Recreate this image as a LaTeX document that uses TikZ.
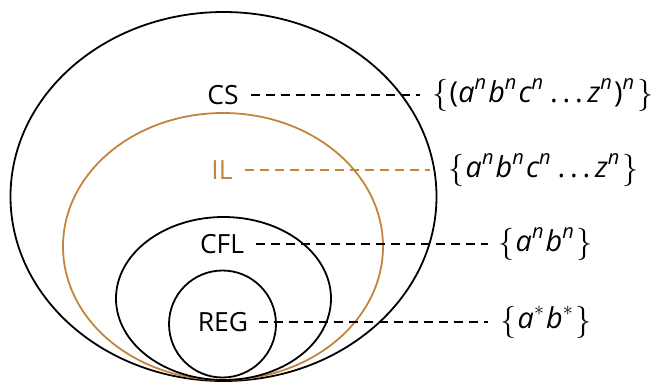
\documentclass[tikz,border=0pt]{standalone}
\usepackage{graphicx}
\usepackage{fontspec}
\setmainfont{Open Sans}
\newcommand\iv[1]{{\itshape #1}}
\newcommand\pw[1]{\raisebox{6.6pt}{\fontsize{10}{11}\selectfont\itshape #1}\hspace{1.1pt}}
\newcommand\lb{\raisebox{-0.6pt}{\scalebox{1.12}{$\big\{$}}\hspace{0.6pt}}
\newcommand\rb{\hspace{0.4pt}\raisebox{-0.6pt}{\scalebox{1.12}{$\big\}$}}}
\newcommand\dts{\hspace{2.4pt}.\hspace{2.4pt}.\hspace{2.4pt}.\hspace{2.4pt}}
\definecolor{ilorange}{RGB}{196,132,62}
\tikzset{
  setline/.style={line width=0.9pt},
  lbl/.style={inner sep=0pt, font=\fontsize{13.2}{15}\selectfont},
  langset/.style={inner sep=0pt, anchor=west, font=\fontsize{14.4}{16}\selectfont},
  connector/.style={line width=0.9pt, dash pattern=on 4.5pt off 3pt, shorten <=6pt, shorten >=6pt}
}
\begin{document}
\begin{tikzpicture}[x=0.5pt,y=-0.5pt]
\useasboundingbox (0,0) rectangle (654,382);
% sets
\draw[setline] (223.5,196.5) ellipse [x radius=213, y radius=184.5];
\draw[setline, ilorange] (223,246.5) ellipse [x radius=160, y radius=133.5];
\draw[setline] (223.5,298.5) ellipse [x radius=107.5, y radius=81.5];
\draw[setline] (222.5,324) circle [radius=53.5];
% names
\node[lbl] (cs) at (223,95) {CS};
\node[lbl, text=ilorange] (il) at (222,170) {IL};
\node[lbl] (cfl) at (222,244) {CFL};
\node[lbl] (reg) at (223,322) {REG};
% languages
\node[langset] (csl) at (432,95) {\lb(\iv{a}\pw{n}\iv{b}\pw{n}\iv{c}\pw{n}\dts\iv{z}\pw{n})\pw{n}\rb};
\node[langset] (ill) at (448,170) {\lb\iv{a}\pw{n}\iv{b}\pw{n}\iv{c}\pw{n}\dts\iv{z}\pw{n}\rb};
\node[langset] (cfll) at (498,244) {\lb\iv{a}\pw{n}\iv{b}\pw{n}\rb};
\node[langset] (regl) at (500,322) {\lb\iv{a}\pw{$*$}\iv{b}\pw{$*$}\rb};
% connectors
\draw[connector] (cs.east) -- (csl.west);
\draw[connector, ilorange, shorten >=9pt] (il.east) -- (ill.west);
\draw[connector, shorten >=5pt] (cfl.east) -- (cfll.west);
\draw[connector, shorten <=5pt] (reg.east) -- (regl.west);
\end{tikzpicture}
\end{document}
